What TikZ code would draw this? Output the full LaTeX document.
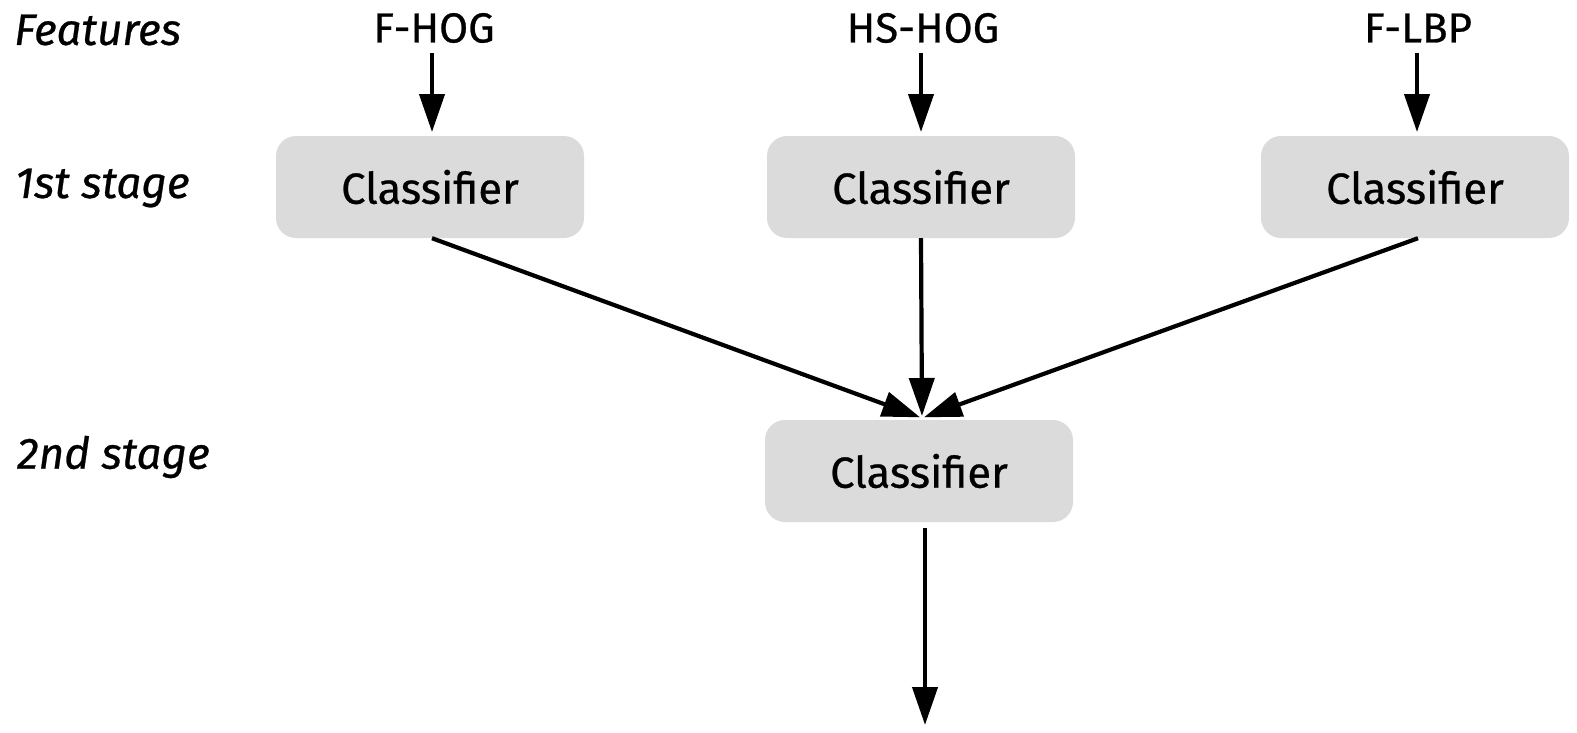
\documentclass[tikz,border=0pt]{standalone}
\usepackage{fontspec}
\setmainfont{Fira Sans}[UprightFeatures={FakeBold=0.6}, ItalicFeatures={FakeBold=0.6}]
\usetikzlibrary{arrows.meta}
\begin{document}
\begin{tikzpicture}[x=1pt,y=-1pt,
  lbl/.style={font=\fontsize{44}{52}\selectfont\itshape, anchor=west, inner sep=0pt},
  feat/.style={font=\fontsize{42}{50}\selectfont, inner sep=0pt},
  clf/.style={fill=boxgray, rounded corners=20pt, minimum width=308pt, minimum height=102pt, font=\fontsize{43.5}{50}\selectfont, inner sep=0pt},
  arr/.style={line width=4.2pt, -{Triangle[length=38pt,width=25pt]}, shorten >=2pt}
]
\definecolor{boxgray}{HTML}{DADBDA}
\useasboundingbox (0,0) rectangle (1577,732);
\node[lbl] (lf) at (14,30) {Features};
\node[lbl] (l1) at (15,188) {1st stage};
\node[lbl] (l2) at (17,457) {2nd stage};
\node[feat] (f1) at (434,28) {F-HOG};
\node[feat] (f2) at (923,28) {HS-HOG};
\node[feat] (f3) at (1418,28) {F-LBP};
\node[clf] (c1) at (430,187) {Classifier};
\node[clf] (c2) at (921,187) {Classifier};
\node[clf] (c3) at (1415,187) {Classifier};
\node[clf] (c4) at (919,471) {Classifier};
\coordinate (t) at (922,418);
\coordinate (out) at (925,727);
\draw[arr] ([yshift=-10pt]f1.south -| 432,0) -- (432,134);
\draw[arr] ([yshift=-10pt]f2.south -| 921,0) -- (921,134);
\draw[arr] ([yshift=-10pt]f3.south -| 1417,0) -- (1417,134);
\draw[arr] (c1.south -| 432,0) -- (t);
\draw[arr] (c2.south) -- (t);
\draw[arr] (c3.south -| 1418,0) -- (t);
\draw[arr] ([yshift=-6pt]c4.south -| 925,0) -- (out);
\end{tikzpicture}
\end{document}
